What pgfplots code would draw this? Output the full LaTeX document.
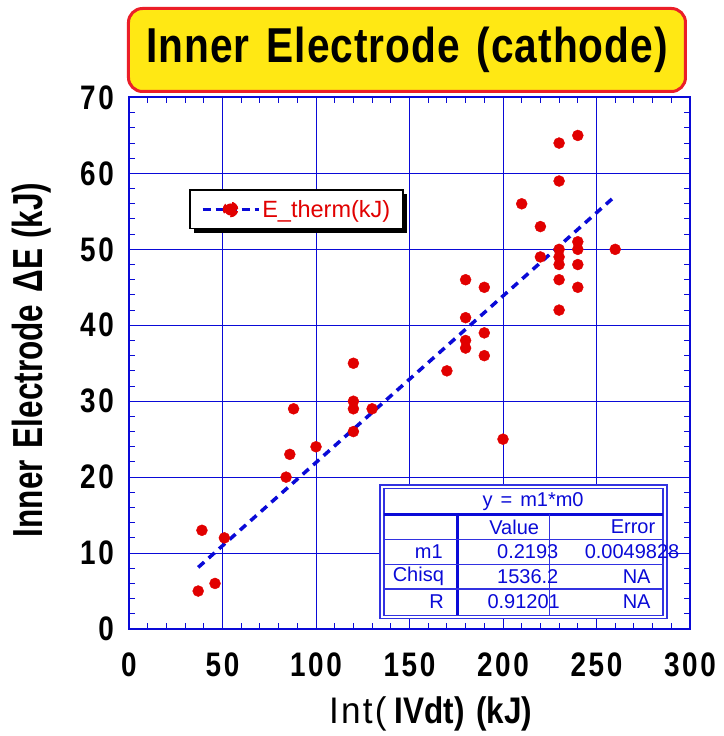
\documentclass[border=0pt]{standalone}
\usepackage{pgfplots}
\pgfplotsset{compat=1.18}
\usepackage{pgfplotstable}
\usepackage{fontspec}
\usetikzlibrary{shadows}
\setmainfont{Liberation Sans}
\newfontfamily\condtitle{Liberation Sans}[FakeStretch=0.83, LetterSpace=2]
\newfontfamily\condtick{Liberation Sans}[FakeStretch=0.82, LetterSpace=8]
\newfontfamily\condlab{Liberation Sans}[FakeStretch=0.75]
\newfontfamily\condx{Liberation Sans}[FakeStretch=0.95, LetterSpace=6]
\newfontfamily\condxb{Liberation Sans}[FakeStretch=0.85]
\definecolor{axblue}{RGB}{10,10,215}
\definecolor{tblblue}{RGB}{50,50,225}
\definecolor{dotred}{RGB}{225,0,0}
\definecolor{titleyellow}{RGB}{255,232,20}
\definecolor{titlered}{RGB}{235,30,40}
\makeatletter
\tikzset{no preactions/.code={\let\tikz@preactions=\pgfutil@empty}}
\makeatother

\pgfplotstableread{
x y
37 5
39 13
46 6
51 12
84 20
86 23
88 29
100 24
120 35
120 30
120 29
120 26
130 29
170 34
180 46
180 41
180 38
180 37
190 45
190 39
190 36
200 25
210 56
220 53
220 49
230 64
230 59
230 50
230 49
230 48
230 46
230 42
240 65
240 51
240 50
240 48
240 45
260 50
}\datatable

\pgfplotstableread{
x y
37 8.114
260 57.018
}\fittable

\begin{document}
\begin{tikzpicture}
\useasboundingbox (0,0) rectangle (723pt,736pt);
\begin{axis}[
  at={(129pt,107pt)}, anchor=south west,
  scale only axis, width=561pt, height=531.5pt,
  xmin=0, xmax=300, ymin=0, ymax=70,
  xtick={0,50,...,300}, ytick={0,10,...,70},
  minor x tick num=4, minor y tick num=4,
  tick align=inside,
  major tick length=6pt, minor tick length=6pt,
  every tick/.style={axblue, line width=1pt},
  grid=major,
  major grid style={axblue, line width=1pt},
  axis line style={axblue, line width=2pt},
  /pgf/number format/assume math mode=true,
  ticklabel style={font=\condtick\bfseries\fontsize{34}{34}\selectfont},
  xticklabel style={inner sep=0pt, yshift=-24pt},
  yticklabel style={inner sep=0pt, xshift=-15pt},
  xlabel={{\fontsize{37}{37}\selectfont{\condx Int(}\hspace{8pt}{\condxb\bfseries IVdt)\hspace{12pt}(kJ)}}},
  ylabel={{\condlab\bfseries\fontsize{42}{42}\selectfont Inner\hspace{12pt}Electrode\hspace{12pt}ΔE\hspace{10pt}(kJ)}},
  every axis x label/.style={at={(axis description cs:0.538,0)}, anchor=base, yshift=-94pt},
  every axis y label/.style={at={(axis description cs:0,0.506)}, anchor=base, rotate=90, yshift=86pt},
  title={{\condtitle\bfseries\fontsize{49}{49}\selectfont Inner\hspace{17pt}Electrode\hspace{17pt}(cathode)}},
  title style={at={(axis description cs:0.4955,1)}, anchor=center, yshift=41.5pt,
    draw=titlered, fill=titleyellow, line width=3pt, rounded corners=14pt,
    minimum width=557pt, minimum height=83pt, inner sep=0pt},
  legend style={at={(0.107,0.827)}, anchor=north west, draw=black, line width=1.5pt,
    fill=white, text=dotred, font=\fontsize{23.5}{23.5}\selectfont,
    inner xsep=11pt, inner ysep=8pt,
    drop shadow={shadow xshift=4pt, shadow yshift=-4pt, fill=black, opacity=1}},
  legend cell align=left,
]
\addplot[only marks, mark=*, mark size=5.5pt, mark options={fill=dotred, draw=dotred}, forget plot] table[x=x,y=y] {\datatable};
\addplot[axblue, line width=3.5pt, dash pattern=on 8pt off 6pt,
  legend image code/.code={
    \draw[no preactions, axblue, solid, line width=3.5pt, dash pattern=on 8pt off 5pt] (0pt,0pt) -- (56pt,0pt);
    \fill[no preactions, dotred] (28pt,0pt) circle (6pt);}
  ] table[x=x,y=y] {\fittable};
\addlegendentry{E\_therm(kJ)}
% fit result table
\fill[white] (axis cs:134.3,1.4) rectangle (axis cs:287.6,18.95);
\draw[tblblue, line width=1.5pt] (axis cs:134.3,1.4) rectangle (axis cs:287.6,18.95);
\draw[tblblue, line width=1.5pt] (axis cs:136.3,1.8) rectangle (axis cs:285.5,18.5);
\draw[axblue, line width=3pt] (axis cs:136.3,15.1) -- (axis cs:285.5,15.1);
\draw[axblue, line width=3pt] (axis cs:175.5,15.1) -- (axis cs:175.5,1.8);
\draw[tblblue, line width=1.5pt] (axis cs:224.9,15.1) -- (axis cs:224.9,1.8);
\draw[tblblue, line width=1.5pt] (axis cs:136.3,11.8) -- (axis cs:285.5,11.8);
\draw[tblblue, line width=1.5pt] (axis cs:136.3,8.5) -- (axis cs:285.5,8.5);
\draw[tblblue, line width=1.5pt] (axis cs:136.3,5.3) -- (axis cs:285.5,5.3);
\begin{scope}[every node/.style={text=axblue, font=\fontsize{20}{20}\selectfont, inner sep=0pt}]
\node[anchor=center] at (axis cs:216.1,16.75) {y\hspace{8pt}=\hspace{8pt}m1*m0};
\node[anchor=center] at (axis cs:206,13.45) {Value};
\node[anchor=east] at (axis cs:281.5,13.45) {Error};
\node[anchor=east] at (axis cs:167.9,10.15) {m1};
\node[anchor=east] at (axis cs:229.7,10.15) {0.2193};
\node[anchor=east] at (axis cs:294.4,10.15) {0.0049828};
\node[anchor=east] at (axis cs:168.5,6.9) {Chisq};
\node[anchor=east] at (axis cs:229.7,6.9) {1536.2};
\node[anchor=east] at (axis cs:279,6.9) {NA};
\node[anchor=east] at (axis cs:168.5,3.65) {R};
\node[anchor=east] at (axis cs:230.5,3.65) {0.91201};
\node[anchor=east] at (axis cs:279,3.65) {NA};
\end{scope}
\end{axis}
\end{tikzpicture}
\end{document}
